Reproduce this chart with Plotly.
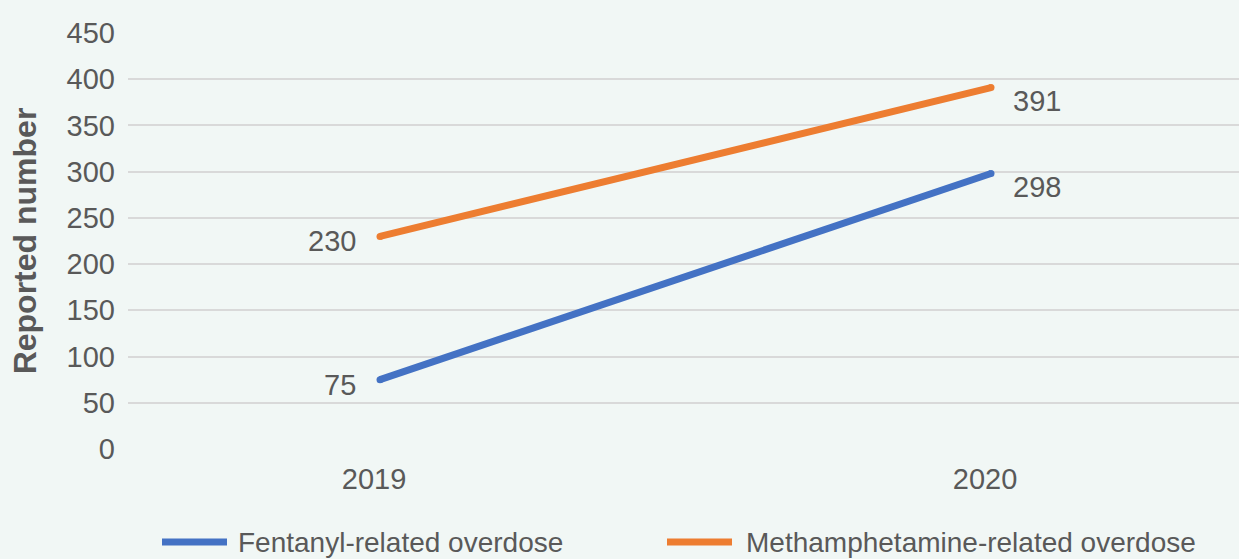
import plotly.graph_objects as go

# Reported overdose counts by year
years = [2019, 2020]
series_names = ["Fentanyl-related overdose", "Methamphetamine-related overdose"]
fentanyl = [75, 298]
methamphetamine = [230, 391]
series_values = [fentanyl, methamphetamine]
series_colors = ["#4472C4", "#ED7D31"]

y_ticks = [0, 50, 100, 150, 200, 250, 300, 350, 400, 450]

FONT = "Liberation Sans, Arial, Helvetica, sans-serif"
TEXT = "#595959"
BG = "#F1F7F5"
FS = 29

W, H = 1239, 559
ML, MR, MT, MB = 128, 0, 33, 110

fig = go.Figure()

for name, vals, color in zip(series_names, series_values, series_colors):
    fig.add_trace(go.Scatter(
        x=years, y=vals, name=name, mode="lines+markers",
        line=dict(color=color, width=7),
        marker=dict(color=color, size=7),
        showlegend=False, hoverinfo="x+y",
    ))
    # value labels: left of the first point, right of the last
    fig.add_annotation(x=years[0], y=vals[0], text=str(vals[0]),
                       showarrow=False, xanchor="right", yanchor="middle",
                       xshift=-22, yshift=-5,
                       font=dict(family=FONT, size=FS, color=TEXT))
    fig.add_annotation(x=years[-1], y=vals[-1], text=str(vals[-1]),
                       showarrow=False, xanchor="left", yanchor="middle",
                       xshift=20, yshift=-13,
                       font=dict(family=FONT, size=FS, color=TEXT))

# Legend drawn below the plot: line swatch + label for each series
plot_w = W - ML - MR
plot_h = H - MT - MB


def px_x(px):
    return (px - ML) / plot_w


def px_y(py):
    return (H - MB - py) / plot_h


legend_slots = [(162, 227, 236), (667, 732, 744)]
legend_y = px_y(542)
for (x0, x1, xt), name, color in zip(legend_slots, series_names, series_colors):
    fig.add_shape(type="line", xref="paper", yref="paper",
                  x0=px_x(x0), x1=px_x(x1), y0=legend_y, y1=legend_y,
                  line=dict(color=color, width=7))
    fig.add_annotation(xref="paper", yref="paper", x=px_x(xt), y=legend_y,
                       text=name, showarrow=False, xanchor="left", yanchor="middle",
                       font=dict(family=FONT, size=28, color=TEXT))

px_per_year = 611
fig.update_layout(
    width=W, height=H,
    margin=dict(l=ML, r=MR, t=MT, b=MB, pad=0),
    paper_bgcolor=BG, plot_bgcolor=BG,
    font=dict(family=FONT, size=FS, color=TEXT),
    showlegend=False,
)
fig.update_xaxes(
    range=[2019 - 252 / px_per_year, 2020 + 248 / px_per_year],
    tickvals=years, ticktext=[str(y) for y in years],
    showgrid=False, zeroline=False, showline=False,
    ticks="", ticklabelstandoff=10, ticklabelshift=-6,
    tickfont=dict(family=FONT, size=FS, color=TEXT),
)
fig.update_yaxes(
    range=[0, 450], tickvals=y_ticks,
    showgrid=True, gridcolor="#D9D9D9", gridwidth=2,
    zeroline=False, showline=False, ticks="",
    ticklabelstandoff=12,
    tickfont=dict(family=FONT, size=FS, color=TEXT),
    title=dict(text="<b>Reported number</b>", standoff=20,
               font=dict(family=FONT, size=32, color=TEXT)),
)

fig.write_html("out.html")
